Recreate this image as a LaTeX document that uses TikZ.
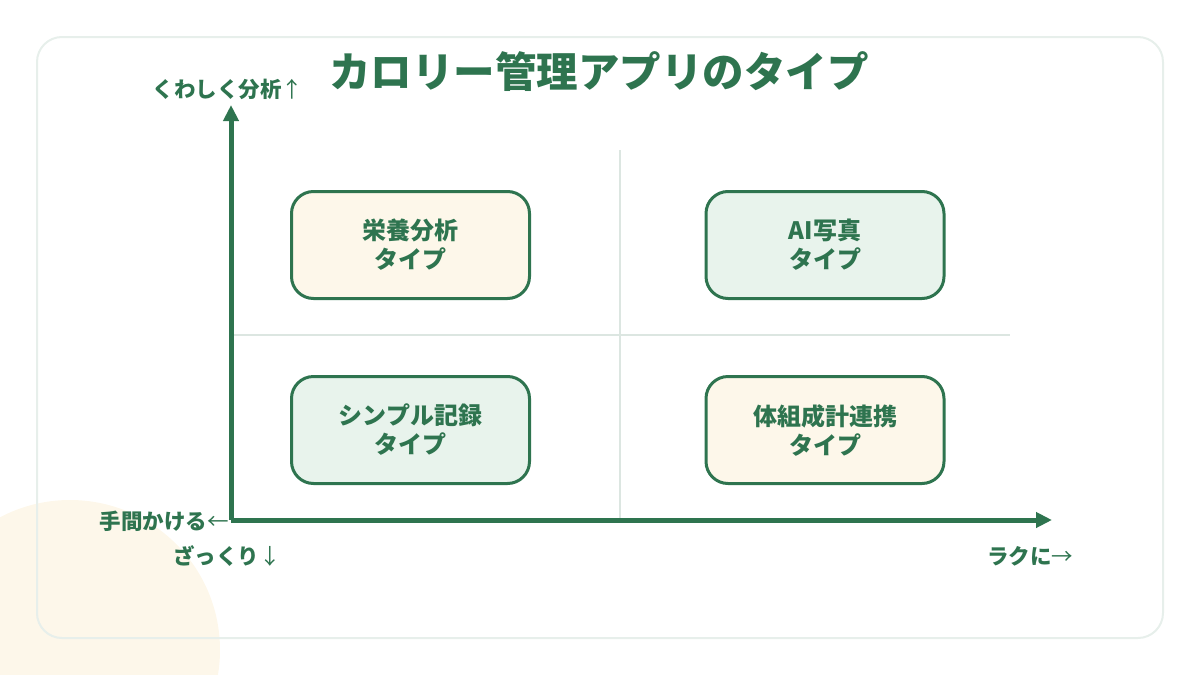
\documentclass[tikz,border=0pt]{standalone}
\usepackage{fontspec}
\newfontfamily\jpfont{Noto Sans CJK JP}
\usetikzlibrary{arrows.meta}

\definecolor{deepgreen}{HTML}{2E744F}
\definecolor{creamfill}{HTML}{FDF7EA}
\definecolor{mintfill}{HTML}{E8F3EC}
\definecolor{cardline}{HTML}{E7EFEB}
\definecolor{gridline}{HTML}{DCE6E1}

\begin{document}
\begin{tikzpicture}[x=1pt, y=-1pt]
        \useasboundingbox (0,0) rectangle (1200,675);
        % background blob and card
        \fill[creamfill] (70,650) circle [radius=150];
        \draw[cardline, line width=2pt, rounded corners=25pt] (37,37) rectangle (1163,638);
        \node[font=\jpfont\bfseries\fontsize{41.5}{48}\selectfont, text=deepgreen] (title) at (599,72) {カロリー管理アプリのタイプ};
        % quadrant lines
        \begin{scope}[every path/.style={draw=gridline, line width=2pt}]
            \coordinate (vtop) at (620,150);
            \coordinate (vbot) at (620,520);
            \coordinate (hleft) at (231,335);
            \coordinate (hright) at (1010,335);
            \path (vtop) -- (vbot);
            \path (hleft) -- (hright);
        \end{scope}
        % axes
        \begin{scope}[every path/.style={draw=deepgreen, line width=5pt, -{Triangle[length=16pt, width=15pt]}}]
            \coordinate (O) at (231,520);
            \coordinate (ytop) at (231,105);
            \coordinate (xend) at (1052,520);
            \path (O) -- (ytop);
            \path (O) -- (xend);
        \end{scope}
        % quadrant boxes
        \begin{scope}[every node/.style={draw=deepgreen, line width=3pt, rounded corners=22pt, minimum width=238pt, minimum height=107pt, align=center, text=deepgreen, font=\jpfont\bfseries\fontsize{24}{29}\selectfont}]
            \node[fill=creamfill] (nutri) at (410.5,245) {栄養分析\\タイプ};
            \node[fill=mintfill] (photo) at (825,245) {AI写真\\タイプ};
            \node[fill=mintfill] (simple) at (410.5,430) {シンプル記録\\タイプ};
            \node[fill=creamfill] (scale) at (825,430) {体組成計連携\\タイプ};
        \end{scope}
        % axis labels
        \begin{scope}[every node/.style={text=deepgreen, inner sep=0pt, font=\jpfont\bfseries\fontsize{21.5}{26}\selectfont}]
            \node (detail) at (228,89) {くわしく分析{\mdseries ↑}};
            \node[anchor=east] (effort) at (229,521) {手間かける{\mdseries ←}};
            \node (rough) at (227,556) {ざっくり{\mdseries ↓}};
            \node (easy) at (1030,556) {ラクに{\mdseries →}};
        \end{scope}
    \end{tikzpicture}
\end{document}
